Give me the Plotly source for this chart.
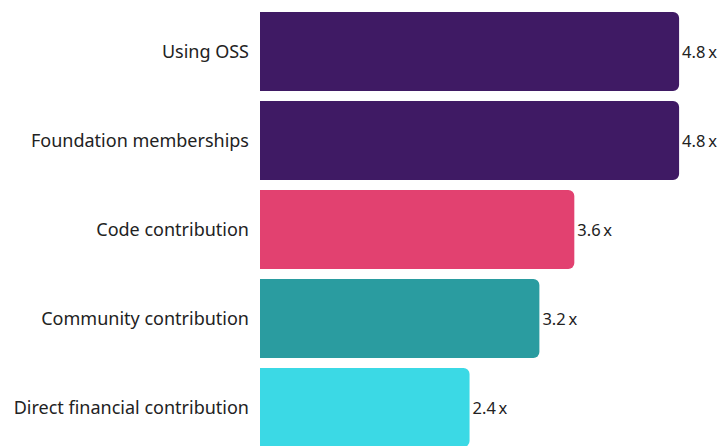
import plotly.graph_objects as go

# Multipliers by type of open source engagement
categories = [
    "Using OSS",
    "Foundation memberships",
    "Code contribution",
    "Community contribution",
    "Direct financial contribution",
]
multipliers = [4.8, 4.8, 3.6, 3.2, 2.4]
bar_colors = ["#3f1a64", "#3f1a64", "#e24170", "#2a9ca0", "#3bd9e5"]
value_labels = [f"{v:.1f}\u2009x" for v in multipliers]

fig = go.Figure(
    go.Bar(
        x=multipliers,
        y=list(range(len(categories))),
        orientation="h",
        marker=dict(color=bar_colors, line=dict(width=0)),
        text=value_labels,
        textposition="outside",
        constraintext="none",
        textfont=dict(family="Noto Sans", size=16.5, color="#222222"),
        cliponaxis=False,
        hoverinfo="skip",
    )
)

fig.update_layout(
    width=721,
    height=446,
    margin=dict(l=260, r=0, t=0, b=0),
    paper_bgcolor="white",
    plot_bgcolor="white",
    bargap=0.112,
    barcornerradius=6,
    showlegend=False,
    font=dict(family="Noto Sans", size=18, color="#222222"),
    xaxis=dict(
        range=[0, 5.28],
        visible=False,
        showgrid=False,
        zeroline=False,
    ),
    yaxis=dict(
        range=[4.4326, -0.5787],
        tickmode="array",
        tickvals=list(range(len(categories))),
        ticktext=categories,
        showgrid=False,
        zeroline=False,
        showline=False,
        ticks="",
        ticklabelstandoff=10,
        tickfont=dict(family="Noto Sans", size=18, color="#222222"),
    ),
)

fig.write_html("out.html")
